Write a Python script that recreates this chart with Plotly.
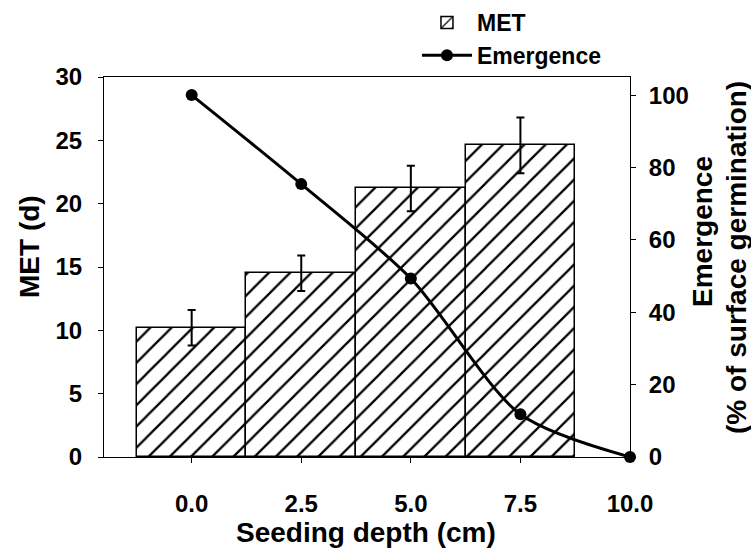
import plotly.graph_objects as go

depth = [0.0, 2.5, 5.0, 7.5]
met = [10.2, 14.5, 21.2, 24.6]
met_err = [1.4, 1.4, 1.8, 2.2]
emg_depth = [0.0, 2.5, 5.0, 7.5, 10.0]
emergence = [100, 75.4, 49.3, 11.8, 0]
x_ticks = [0.0, 2.5, 5.0, 7.5, 10.0]
x_ticktext = ["0.0", "2.5", "5.0", "7.5", "10.0"]

FONT = "Liberation Sans, Arial, sans-serif"

fig = go.Figure()
fig.add_trace(go.Bar(
    x=depth, y=met, width=2.5, name="MET",
    marker=dict(color="white", line=dict(color="black", width=1.5),
                pattern=dict(shape="/", fgcolor="black", bgcolor="white",
                             size=15, solidity=0.15, fgopacity=1)),
    error_y=dict(type="data", array=met_err, color="black", thickness=2, width=4),
))
fig.add_trace(go.Scatter(
    x=emg_depth, y=emergence, name="Emergence", yaxis="y2",
    mode="lines+markers", line=dict(color="black", width=3, shape="spline", smoothing=0.8),
    marker=dict(color="black", size=12), cliponaxis=False,
))

tickfont = dict(family=FONT, size=24, color="black", weight="bold")
fig.update_layout(
    width=751, height=552,
    margin=dict(l=104, r=121, t=77, b=95, autoexpand=False),
    plot_bgcolor="white", paper_bgcolor="white",
    bargap=0,
    showlegend=True,
    legend=dict(x=0.595, y=1.2, xanchor="left", yanchor="top",
                font=dict(family=FONT, size=23, color="black", weight="bold"),
                bgcolor="rgba(0,0,0,0)", itemwidth=50, tracegroupgap=0),
    xaxis=dict(range=[-2, 10], tickvals=x_ticks, ticktext=x_ticktext,
               ticks="outside", ticklen=5, tickcolor="black", showline=True,
               linecolor="black", linewidth=1, mirror=True, showgrid=False,
               zeroline=False, tickfont=tickfont, ticklabelstandoff=20),
    yaxis=dict(range=[0, 30], dtick=5, ticks="outside", ticklen=5, tickcolor="black",
               showline=True, linecolor="black", linewidth=1, showgrid=False,
               zeroline=False, tickfont=tickfont, ticklabelstandoff=11),
    yaxis2=dict(range=[0, 105], dtick=20, overlaying="y", side="right",
                ticks="outside", ticklen=5, tickcolor="black", showline=True,
                linecolor="black", linewidth=1, showgrid=False, zeroline=False,
                tickfont=tickfont, ticklabelstandoff=8),
)

titlefont = dict(family=FONT, size=28, color="black", weight="bold")
annots = [
    dict(text="Seeding depth (cm)", x=(366 - 104) / 526, y=(457 - 532) / 380, textangle=0),
    dict(text="MET (d)", x=(30 - 104) / 526, y=(457 - 247) / 380, textangle=-90),
    dict(text="Emergence", x=(702 - 104) / 526, y=(457 - 232) / 380, textangle=-90),
    dict(text="(% of surface germination)", x=(736 - 104) / 526, y=(457 - 258) / 380, textangle=-90),
]
for a in annots:
    fig.add_annotation(text=a["text"], x=a["x"], y=a["y"], xref="paper", yref="paper",
                       xanchor="center", yanchor="middle", textangle=a["textangle"],
                       showarrow=False, font=titlefont)

fig.write_html("out.html")
